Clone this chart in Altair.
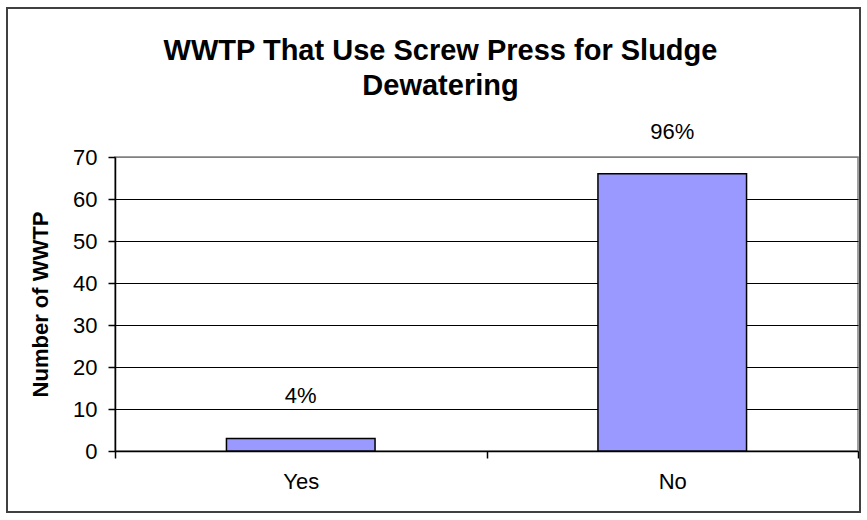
import altair as alt
import pandas as pd

categories = ["Yes", "No"]
counts = [3, 66]
percent_labels = ["4%", "96%"]
y_ticks = [0, 10, 20, 30, 40, 50, 60, 70]

df = pd.DataFrame({"answer": categories, "count": counts, "pct": percent_labels})

FONT = "Liberation Sans"

x = alt.X(
    "answer:N",
    sort=categories,
    scale=alt.Scale(paddingInner=0, paddingOuter=0),
    axis=alt.Axis(
        title=None, labelAngle=0, labelFontSize=22, labelFont=FONT, labelColor="black",
        tickBand="extent", tickSize=7, tickColor="black", tickWidth=1.5,
        domainColor="black", domainWidth=1.5, labelPadding=13, grid=False,
    ),
)
y = alt.Y(
    "count:Q",
    scale=alt.Scale(domain=[0, 70], nice=False),
    axis=alt.Axis(
        values=y_ticks, title="Number of WWTP", titleFont=FONT, titleFontSize=22,
        titleFontWeight="bold", titleColor="black", titlePadding=20,
        labelFont=FONT, labelFontSize=22, labelColor="black", labelPadding=11,
        tickSize=7, tickColor="black", tickWidth=1.5,
        domainColor="black", domainWidth=1.5,
        grid=True, gridWidth=1,
        gridColor={"condition": {"test": "datum.value === 70", "value": "#808080"}, "value": "black"},
    ),
)

frame = alt.Chart(alt.Data(values=[{"k": 1}])).mark_rect(
    fillOpacity=0, stroke="#404040", strokeWidth=2
).encode(
    x=alt.value(-108), x2=alt.value(745), y=alt.value(-149), y2=alt.value(355)
)

bars = alt.Chart(df).mark_bar(
    width=alt.RelativeBandSize(0.4), color="#9999FF", stroke="black", strokeWidth=1.5
).encode(x=x, y=y)

labels = alt.Chart(df).mark_text(
    fontSize=22, font=FONT, dy=-35, baseline="alphabetic", color="black"
).encode(x=x, y=alt.Y("count:Q"), text="pct:N")

chart = alt.layer(frame, bars, labels).properties(
    width=743,
    height=294,
    autosize=alt.AutoSizeParams(type="none"),
    padding={"left": 115, "top": 157, "right": 9, "bottom": 69},
    background="white",
    title=alt.TitleParams(
        text=["WWTP That Use Screw Press for Sludge", "Dewatering"],
        font=FONT, fontSize=29, fontWeight="bold", color="black",
        anchor="middle", dx=-46, dy=98, lineHeight=35,
    ),
).configure_view(stroke="#808080", strokeWidth=1.5)

chart.save("out.html", embed_options={"renderer": "svg", "actions": False})
